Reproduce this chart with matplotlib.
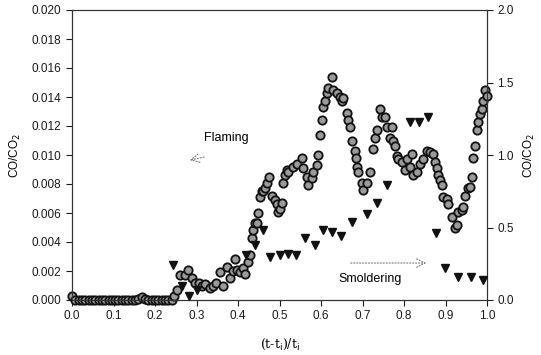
import matplotlib
matplotlib.use("Agg")
import matplotlib.pyplot as plt

plt.rcParams["font.family"] = ["Liberation Sans", "DejaVu Sans"]

# flaming CO/CO2 (left axis)
flame_x = [0.000, 0.008, 0.016, 0.024, 0.032, 0.040, 0.048, 0.056, 0.064, 0.072,
           0.080, 0.088, 0.096, 0.104, 0.112, 0.120, 0.128, 0.136, 0.144, 0.152,
           0.160, 0.168, 0.176, 0.184, 0.192, 0.200, 0.208, 0.216, 0.224, 0.232,
           0.240, 0.245, 0.252, 0.260, 0.272, 0.280, 0.290, 0.296, 0.305, 0.313,
           0.320, 0.332, 0.340, 0.347, 0.357, 0.365, 0.373, 0.380, 0.388, 0.393,
           0.397, 0.405, 0.412, 0.417, 0.424, 0.429, 0.433, 0.437, 0.441, 0.445,
           0.448, 0.453, 0.457, 0.460, 0.465, 0.470, 0.475, 0.482, 0.490, 0.494,
           0.497, 0.500, 0.506, 0.508, 0.513, 0.517, 0.520, 0.533, 0.542, 0.554,
           0.557, 0.566, 0.569, 0.578, 0.581, 0.590, 0.593, 0.598, 0.602, 0.605,
           0.610, 0.614, 0.617, 0.626, 0.629, 0.638, 0.646, 0.650, 0.653, 0.663,
           0.665, 0.670, 0.675, 0.682, 0.684, 0.687, 0.689, 0.699, 0.701, 0.711,
           0.718, 0.725, 0.730, 0.735, 0.742, 0.747, 0.754, 0.759, 0.766, 0.771,
           0.774, 0.778, 0.783, 0.786, 0.795, 0.802, 0.807, 0.814, 0.819, 0.822,
           0.831, 0.839, 0.846, 0.855, 0.863, 0.870, 0.875, 0.880, 0.882, 0.887,
           0.892, 0.894, 0.904, 0.906, 0.916, 0.923, 0.928, 0.930, 0.940, 0.942,
           0.947, 0.954, 0.958, 0.964, 0.966, 0.971, 0.976, 0.978, 0.983, 0.988,
           0.990, 0.995, 1.000]
flame_y = [0.0003, 0.0000, 0.0000, 0.0000, 0.0000, 0.0000, 0.0000, 0.0000, 0.0000, 0.0000,
           0.0000, 0.0000, 0.0000, 0.0000, 0.0000, 0.0000, 0.0000, 0.0000, 0.0000, 0.0000,
           0.0001, 0.0002, 0.0001, 0.0000, 0.0000, 0.0000, 0.0000, 0.0000, 0.0000, 0.0000,
           0.0000, 0.0003, 0.0007, 0.0017, 0.0017, 0.0021, 0.0015, 0.0012, 0.0012, 0.0010,
           0.0011, 0.0008, 0.0010, 0.0012, 0.0019, 0.0010, 0.0023, 0.0015, 0.0020, 0.0028,
           0.0021, 0.0019, 0.0022, 0.0018, 0.0026, 0.0031, 0.0043, 0.0048, 0.0053, 0.0053,
           0.0060, 0.0071, 0.0075, 0.0075, 0.0077, 0.0081, 0.0085, 0.0072, 0.0069, 0.0066,
           0.0061, 0.0063, 0.0067, 0.0081, 0.0086, 0.0090, 0.0088, 0.0092, 0.0094, 0.0098,
           0.0091, 0.0085, 0.0079, 0.0084, 0.0088, 0.0093, 0.0100, 0.0114, 0.0124, 0.0133,
           0.0137, 0.0143, 0.0146, 0.0154, 0.0145, 0.0143, 0.0140, 0.0137, 0.0139, 0.0129,
           0.0124, 0.0119, 0.0110, 0.0103, 0.0098, 0.0092, 0.0088, 0.0081, 0.0076, 0.0081,
           0.0088, 0.0104, 0.0112, 0.0117, 0.0132, 0.0126, 0.0126, 0.0119, 0.0112, 0.0119,
           0.0110, 0.0106, 0.0099, 0.0097, 0.0095, 0.0090, 0.0097, 0.0092, 0.0101, 0.0086,
           0.0088, 0.0094, 0.0097, 0.0103, 0.0102, 0.0101, 0.0095, 0.0091, 0.0086, 0.0083,
           0.0079, 0.0071, 0.0070, 0.0066, 0.0057, 0.0050, 0.0052, 0.0061, 0.0062, 0.0064,
           0.0072, 0.0077, 0.0078, 0.0085, 0.0098, 0.0106, 0.0117, 0.0123, 0.0128, 0.0132,
           0.0137, 0.0145, 0.0141]

# smoldering CO/CO2 (right axis)
smold_x = [0.243, 0.265, 0.282, 0.302, 0.420, 0.441, 0.460, 0.478, 0.500, 0.520,
           0.540, 0.561, 0.585, 0.605, 0.626, 0.648, 0.674, 0.711, 0.734, 0.759,
           0.814, 0.836, 0.858, 0.876, 0.899, 0.930, 0.961, 0.990]
smold_y = [0.24, 0.10, 0.03, 0.07, 0.31, 0.38, 0.48, 0.30, 0.31, 0.32,
           0.31, 0.43, 0.38, 0.48, 0.47, 0.44, 0.54, 0.59, 0.67, 0.79,
           1.23, 1.23, 1.26, 0.46, 0.22, 0.16, 0.16, 0.14]

fig = plt.figure(figsize=(5.41, 3.55), dpi=100)
ax = fig.add_axes([72 / 541, 55 / 355, 415 / 541, 290 / 355])
ax2 = ax.twinx()

ax.plot(flame_x, flame_y, "o", ms=6, mfc="#9a9a9a", mec="#111111", mew=1.3,
        clip_on=False, zorder=3)
ax2.plot(smold_x, smold_y, "v", ms=6, color="#111111", clip_on=False, zorder=3)

ax.set_xlim(0, 1.0)
ax.set_ylim(0, 0.020)
ax2.set_ylim(0, 2.0)
ax.set_xticks([0.0, 0.1, 0.2, 0.3, 0.4, 0.5, 0.6, 0.7, 0.8, 0.9, 1.0])
ax.set_yticks([0.000, 0.002, 0.004, 0.006, 0.008, 0.010, 0.012, 0.014, 0.016, 0.018, 0.020])
ax2.set_yticks([0.0, 0.5, 1.0, 1.5, 2.0])
ax.xaxis.set_major_formatter(plt.FormatStrFormatter("%.1f"))
ax.yaxis.set_major_formatter(plt.FormatStrFormatter("%.3f"))
ax2.yaxis.set_major_formatter(plt.FormatStrFormatter("%.1f"))

for a in (ax, ax2):
    a.tick_params(direction="out", length=4, width=0.8, labelsize=8.5, colors="#1a1a1a")
    for s in a.spines.values():
        s.set_linewidth(0.8)
        s.set_color("#333333")

ax.set_ylabel("CO/CO$_2$", fontsize=8.5, labelpad=6)
ax2.set_ylabel("CO/CO$_2$", fontsize=8.5, labelpad=6)
ax.set_xlabel("(t-t$_\\mathrm{i}$)/t$_\\mathrm{i}$", fontsize=9, labelpad=10,
              family="DejaVu Serif")

ax.text(0.371, 0.0112, "Flaming", fontsize=9, ha="center", va="center")
ax.annotate("", xy=(0.277, 0.0096), xytext=(0.325, 0.0099),
            arrowprops=dict(arrowstyle="->,head_length=0.6,head_width=0.3",
                            ls=":", lw=0.8, color="#777777"))
ax.text(0.718, 0.00145, "Smoldering", fontsize=9, ha="center", va="center")
ax.annotate("", xy=(0.86, 0.00255), xytext=(0.665, 0.00255),
            arrowprops=dict(arrowstyle="->,head_length=0.6,head_width=0.3",
                            ls=":", lw=0.8, color="#777777"))

fig.savefig("out.png", dpi=100)
plt.close(fig)
